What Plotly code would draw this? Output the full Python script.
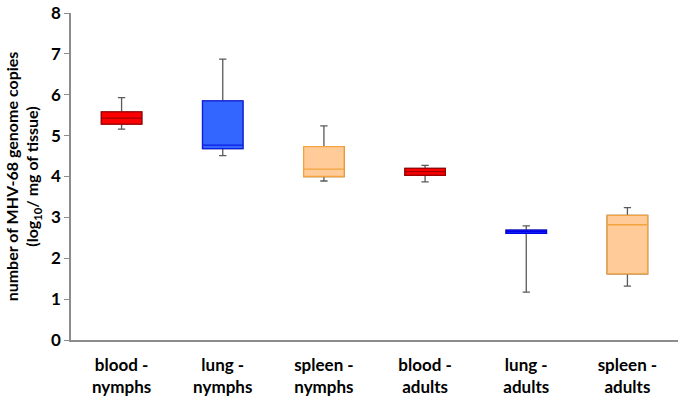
import plotly.graph_objects as go

# values (log10 copies / mg tissue)
categories = ["blood -<br>nymphs", "lung -<br>nymphs", "spleen -<br>nymphs",
              "blood -<br>adults", "lung -<br>adults", "spleen -<br>adults"]
lower = [5.16, 4.51, 3.89, 3.87, 1.17, 1.32]
q1 = [5.28, 4.68, 4.00, 4.03, 2.61, 1.62]
median = [5.43, 4.77, 4.18, 4.12, 2.65, 2.82]
q3 = [5.58, 5.85, 4.73, 4.20, 2.69, 3.05]
upper = [5.93, 6.87, 5.24, 4.27, 2.79, 3.24]
y_ticks = [0, 1, 2, 3, 4, 5, 6, 7, 8]

fills = ["#ff0000", "#3366ff", "#ffcc99", "#ff0000", "#1f3cff", "#ffcc99"]
edges = ["#a00000", "#0a1ee6", "#f5a33c", "#a00000", "#0000e6", "#f5a33c"]

fig = go.Figure()
for i, cat in enumerate(categories):
    # grey whiskers with small caps
    fig.add_trace(go.Box(
        x=[cat], q1=[q1[i]], median=[median[i]], q3=[q3[i]],
        lowerfence=[lower[i]], upperfence=[upper[i]],
        line=dict(color="#595959", width=1.3),
        fillcolor="rgba(0,0,0,0)", whiskerwidth=0.18, width=0.4,
        hoverinfo="skip", showlegend=False,
    ))
    # coloured box on top
    fig.add_trace(go.Box(
        x=[cat], q1=[q1[i]], median=[median[i]], q3=[q3[i]],
        lowerfence=[q1[i]], upperfence=[q3[i]],
        line=dict(color=edges[i], width=1.3),
        fillcolor=fills[i], whiskerwidth=0, width=0.4,
        showlegend=False,
    ))

fig.update_layout(
    width=686, height=406,
    margin=dict(l=71, r=8, t=13, b=66),
    paper_bgcolor="white", plot_bgcolor="white",
    boxmode="overlay",
    font=dict(family="Lato, Carlito, sans-serif", color="black"),
    xaxis=dict(
        type="category", showline=True, linecolor="#8c8c8c", linewidth=1.5,
        ticks="", ticklabelstandoff=9, automargin=False,
        tickfont=dict(size=17, weight="bold"),
        showgrid=False, zeroline=False,
    ),
    yaxis=dict(
        range=[0, 8], tickvals=y_ticks, showline=True, linecolor="#8c8c8c",
        linewidth=1.5, ticks="outside", ticklen=5, tickcolor="#8c8c8c",
        tickfont=dict(size=17, weight="bold"), automargin=False,
        ticklabeloverflow="allow", ticklabelstandoff=0,
        showgrid=False, zeroline=False,
        title=dict(text="number of MHV-68 genome copies<br>(log<sub>10</sub>/ mg of tissue)",
                   font=dict(size=16, weight="bold"), standoff=8),
    ),
)

# drop the default 8px body margin so the figure sits at the page corner
fig.write_html("out.html", config={"displayModeBar": False},
               post_script="document.body.style.margin='0';")
